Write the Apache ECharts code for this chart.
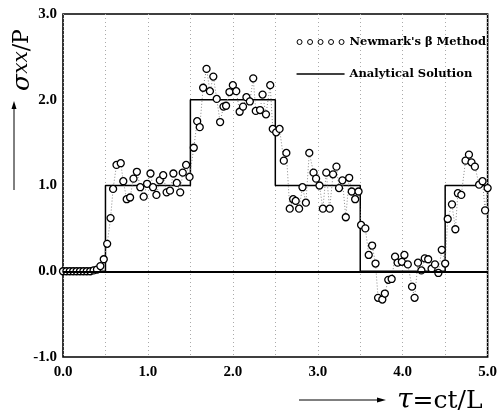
<!DOCTYPE html>
<html>
<head>
<meta charset="UTF-8">
<script src="https://cdn.jsdelivr.net/npm/echarts@6/dist/echarts.min.js"></script>
<style>
    body { margin: 0; background: #fff; }
    #main { width: 500px; height: 416px; }
</style>
</head>
<body>
<div id="main"></div>
<script>
    // Newmark's beta method results (tau, sigma/P)
    var tau = [0.00, 0.04, 0.08, 0.12, 0.16, 0.20, 0.24, 0.28, 0.32, 0.36, 0.40, 0.44, 0.48, 0.52, 0.56, 0.59,
        0.63, 0.68, 0.71, 0.75, 0.79, 0.83, 0.87, 0.91, 0.95, 0.99, 1.03, 1.06, 1.10, 1.14, 1.18, 1.22, 1.26,
        1.30, 1.34, 1.38, 1.41, 1.45, 1.49, 1.54, 1.58, 1.61, 1.65, 1.69, 1.73, 1.77, 1.81, 1.85, 1.89, 1.92,
        1.96, 2.00, 2.04, 2.08, 2.12, 2.16, 2.20, 2.24, 2.27, 2.32, 2.35, 2.39, 2.44, 2.47, 2.51, 2.55, 2.60,
        2.63, 2.67, 2.71, 2.74, 2.78, 2.82, 2.86, 2.90, 2.95, 2.98, 3.02, 3.06, 3.10, 3.14, 3.18, 3.22, 3.25,
        3.29, 3.33, 3.37, 3.40, 3.44, 3.48, 3.51, 3.56, 3.60, 3.64, 3.68, 3.71, 3.76, 3.79, 3.83, 3.87, 3.91,
        3.94, 3.99, 4.02, 4.06, 4.11, 4.14, 4.18, 4.22, 4.26, 4.30, 4.34, 4.38, 4.42, 4.46, 4.50, 4.53, 4.58,
        4.62, 4.65, 4.69, 4.74, 4.78, 4.81, 4.85, 4.90, 4.94, 4.97, 5.00];
    var sigma = [0.00, 0.00, 0.00, 0.00, 0.00, 0.00, 0.00, 0.00, 0.00, 0.01, 0.02, 0.06, 0.14, 0.32, 0.62, 0.96,
        1.24, 1.26, 1.05, 0.84, 0.86, 1.08, 1.16, 0.98, 0.87, 1.02, 1.14, 0.98, 0.89, 1.06, 1.12, 0.92, 0.94,
        1.14, 1.03, 0.92, 1.15, 1.24, 1.10, 1.44, 1.75, 1.68, 2.14, 2.36, 2.10, 2.27, 2.01, 1.74, 1.92, 1.93,
        2.09, 2.17, 2.10, 1.86, 1.92, 2.03, 1.98, 2.25, 1.87, 1.88, 2.06, 1.83, 2.17, 1.66, 1.62, 1.66, 1.29,
        1.38, 0.73, 0.84, 0.82, 0.73, 0.98, 0.80, 1.38, 1.15, 1.08, 1.00, 0.73, 1.15, 0.73, 1.13, 1.22, 0.97,
        1.06, 0.63, 1.09, 0.93, 0.84, 0.93, 0.54, 0.50, 0.19, 0.30, 0.09, -0.31, -0.33, -0.26, -0.10, -0.09, 0.17,
        0.10, 0.11, 0.19, 0.08, -0.18, -0.31, 0.10, 0.01, 0.15, 0.14, 0.03, 0.08, -0.02, 0.25, 0.09, 0.61, 0.78,
        0.49, 0.91, 0.89, 1.29, 1.36, 1.27, 1.22, 1.01, 1.05, 0.71, 0.97];

    // analytical solution: step starts and levels
    var stepTau = [0, 0.5, 1.5, 2.5, 3.5, 4.5, 5.0];
    var stepSigma = [0, 1, 2, 1, 0, 1, 1];

    var xTicks = ['0.0', '1.0', '2.0', '3.0', '4.0', '5.0'];
    var yTicks = ['-1.0', '0.0', '1.0', '2.0', '3.0'];

    var newmarkName = "Newmark's \u03b2 Method";
    var analyticName = 'Analytical Solution';

    var newmarkData = tau.map(function (t, i) {
        return [t, sigma[i]];
    });
    var stepData = stepTau.map(function (t, i) {
        return [t, stepSigma[i]];
    });

    // five small circles for the legend icon
    var circlesIcon = 'path://' + [0, 1, 2, 3, 4].map(function (k) {
        var cx = 2.5 + k * 10.5;
        return 'M' + (cx - 2.5) + ',2.5a2.5,2.5 0 1,0 5,0a2.5,2.5 0 1,0 -5,0Z';
    }).join('');
    var lineIcon = 'path://M0,0H48V1.4H0Z';

    var labelFont = {
        fontFamily: 'Liberation Serif',
        fontWeight: 'bold',
        fontSize: 15,
        color: '#000'
    };

    var myChart = echarts.init(document.getElementById('main'), null, {renderer: 'canvas'});

    var option = {
        backgroundColor: '#fff',
        animation: false,
        grid: {
            left: 63,
            right: 8,
            top: 14,
            bottom: 59,
            show: true,
            borderColor: '#000',
            borderWidth: 1.6,
            backgroundColor: 'transparent'
        },
        legend: {
            orient: 'vertical',
            right: 9,
            top: 31,
            itemWidth: 48,
            itemHeight: 5,
            itemGap: 20,
            symbolKeepAspect: true,
            selectedMode: false,
            textStyle: {
                fontFamily: 'DejaVu Serif',
                fontWeight: 'bold',
                fontSize: 11.5,
                color: '#000'
            },
            data: [
                {
                    name: newmarkName,
                    icon: circlesIcon,
                    itemStyle: {color: '#fff', borderColor: '#000', borderWidth: 1}
                },
                {
                    name: analyticName,
                    icon: lineIcon,
                    itemStyle: {color: '#000', borderWidth: 0}
                }
            ]
        },
        xAxis: {
            type: 'value',
            min: 0,
            max: 5,
            interval: 1,
            axisLine: {show: false},
            axisTick: {show: false},
            minorTick: {show: false, splitNumber: 2},
            axisLabel: Object.assign({
                margin: 8,
                formatter: function (v) {
                    return xTicks[Math.round(v)];
                }
            }, labelFont),
            splitLine: {
                show: true,
                lineStyle: {color: '#aaa', type: [1, 3], width: 1}
            },
            minorSplitLine: {
                show: true,
                lineStyle: {color: '#aaa', type: [1, 3], width: 1}
            }
        },
        yAxis: {
            type: 'value',
            min: -1,
            max: 3,
            interval: 1,
            axisLine: {show: false},
            axisTick: {show: false},
            splitLine: {show: false},
            axisLabel: Object.assign({
                margin: 6,
                formatter: function (v) {
                    return yTicks[Math.round(v) + 1];
                }
            }, labelFont)
        },
        series: [
            {
                name: analyticName,
                type: 'line',
                step: 'end',
                data: stepData,
                symbol: 'none',
                z: 3,
                lineStyle: {color: '#000', width: 1.5},
                itemStyle: {color: '#000'},
                markLine: {
                    silent: true,
                    symbol: 'none',
                    label: {show: false},
                    lineStyle: {color: '#000', width: 2.2, type: 'solid'},
                    data: [{yAxis: 0}]
                }
            },
            {
                name: newmarkName,
                type: 'line',
                data: newmarkData,
                symbol: 'circle',
                symbolSize: 7,
                z: 4,
                itemStyle: {color: '#fff', borderColor: '#000', borderWidth: 1.3},
                lineStyle: {color: '#888', width: 1, type: [1, 2]}
            }
        ],
        graphic: [
            {
                type: 'line',
                shape: {x1: 14, y1: 190, x2: 14, y2: 106},
                style: {stroke: '#000', lineWidth: 1}
            },
            {
                type: 'polygon',
                shape: {points: [[14, 101], [11.5, 109], [16.5, 109]]},
                style: {fill: '#000'}
            },
            {
                type: 'text',
                x: 22,
                y: 60,
                rotation: Math.PI / 2,
                style: {
                    text: '{s|\u03c3}{x|xx}{p|/P}',
                    align: 'center',
                    verticalAlign: 'middle',
                    rich: {
                        s: {fontFamily: 'DejaVu Serif', fontStyle: 'italic', fontSize: 25, fill: '#000'},
                        x: {fontFamily: 'DejaVu Serif', fontStyle: 'italic', fontSize: 20, fill: '#000'},
                        p: {fontFamily: 'DejaVu Serif', fontSize: 22, fill: '#000'}
                    }
                }
            },
            {
                type: 'line',
                shape: {x1: 299, y1: 400, x2: 380, y2: 400},
                style: {stroke: '#000', lineWidth: 1}
            },
            {
                type: 'polygon',
                shape: {points: [[386, 400], [377, 397.5], [377, 402.5]]},
                style: {fill: '#000'}
            },
            {
                type: 'text',
                x: 397,
                y: 401,
                style: {
                    text: '{t|\u03c4}{r|=ct/L}',
                    align: 'left',
                    verticalAlign: 'middle',
                    rich: {
                        t: {fontFamily: 'DejaVu Serif', fontStyle: 'italic', fontSize: 28, fill: '#000'},
                        r: {fontFamily: 'DejaVu Serif', fontSize: 25, fill: '#000'}
                    }
                }
            }
        ]
    };

    myChart.setOption(option);
</script>
</body>
</html>
